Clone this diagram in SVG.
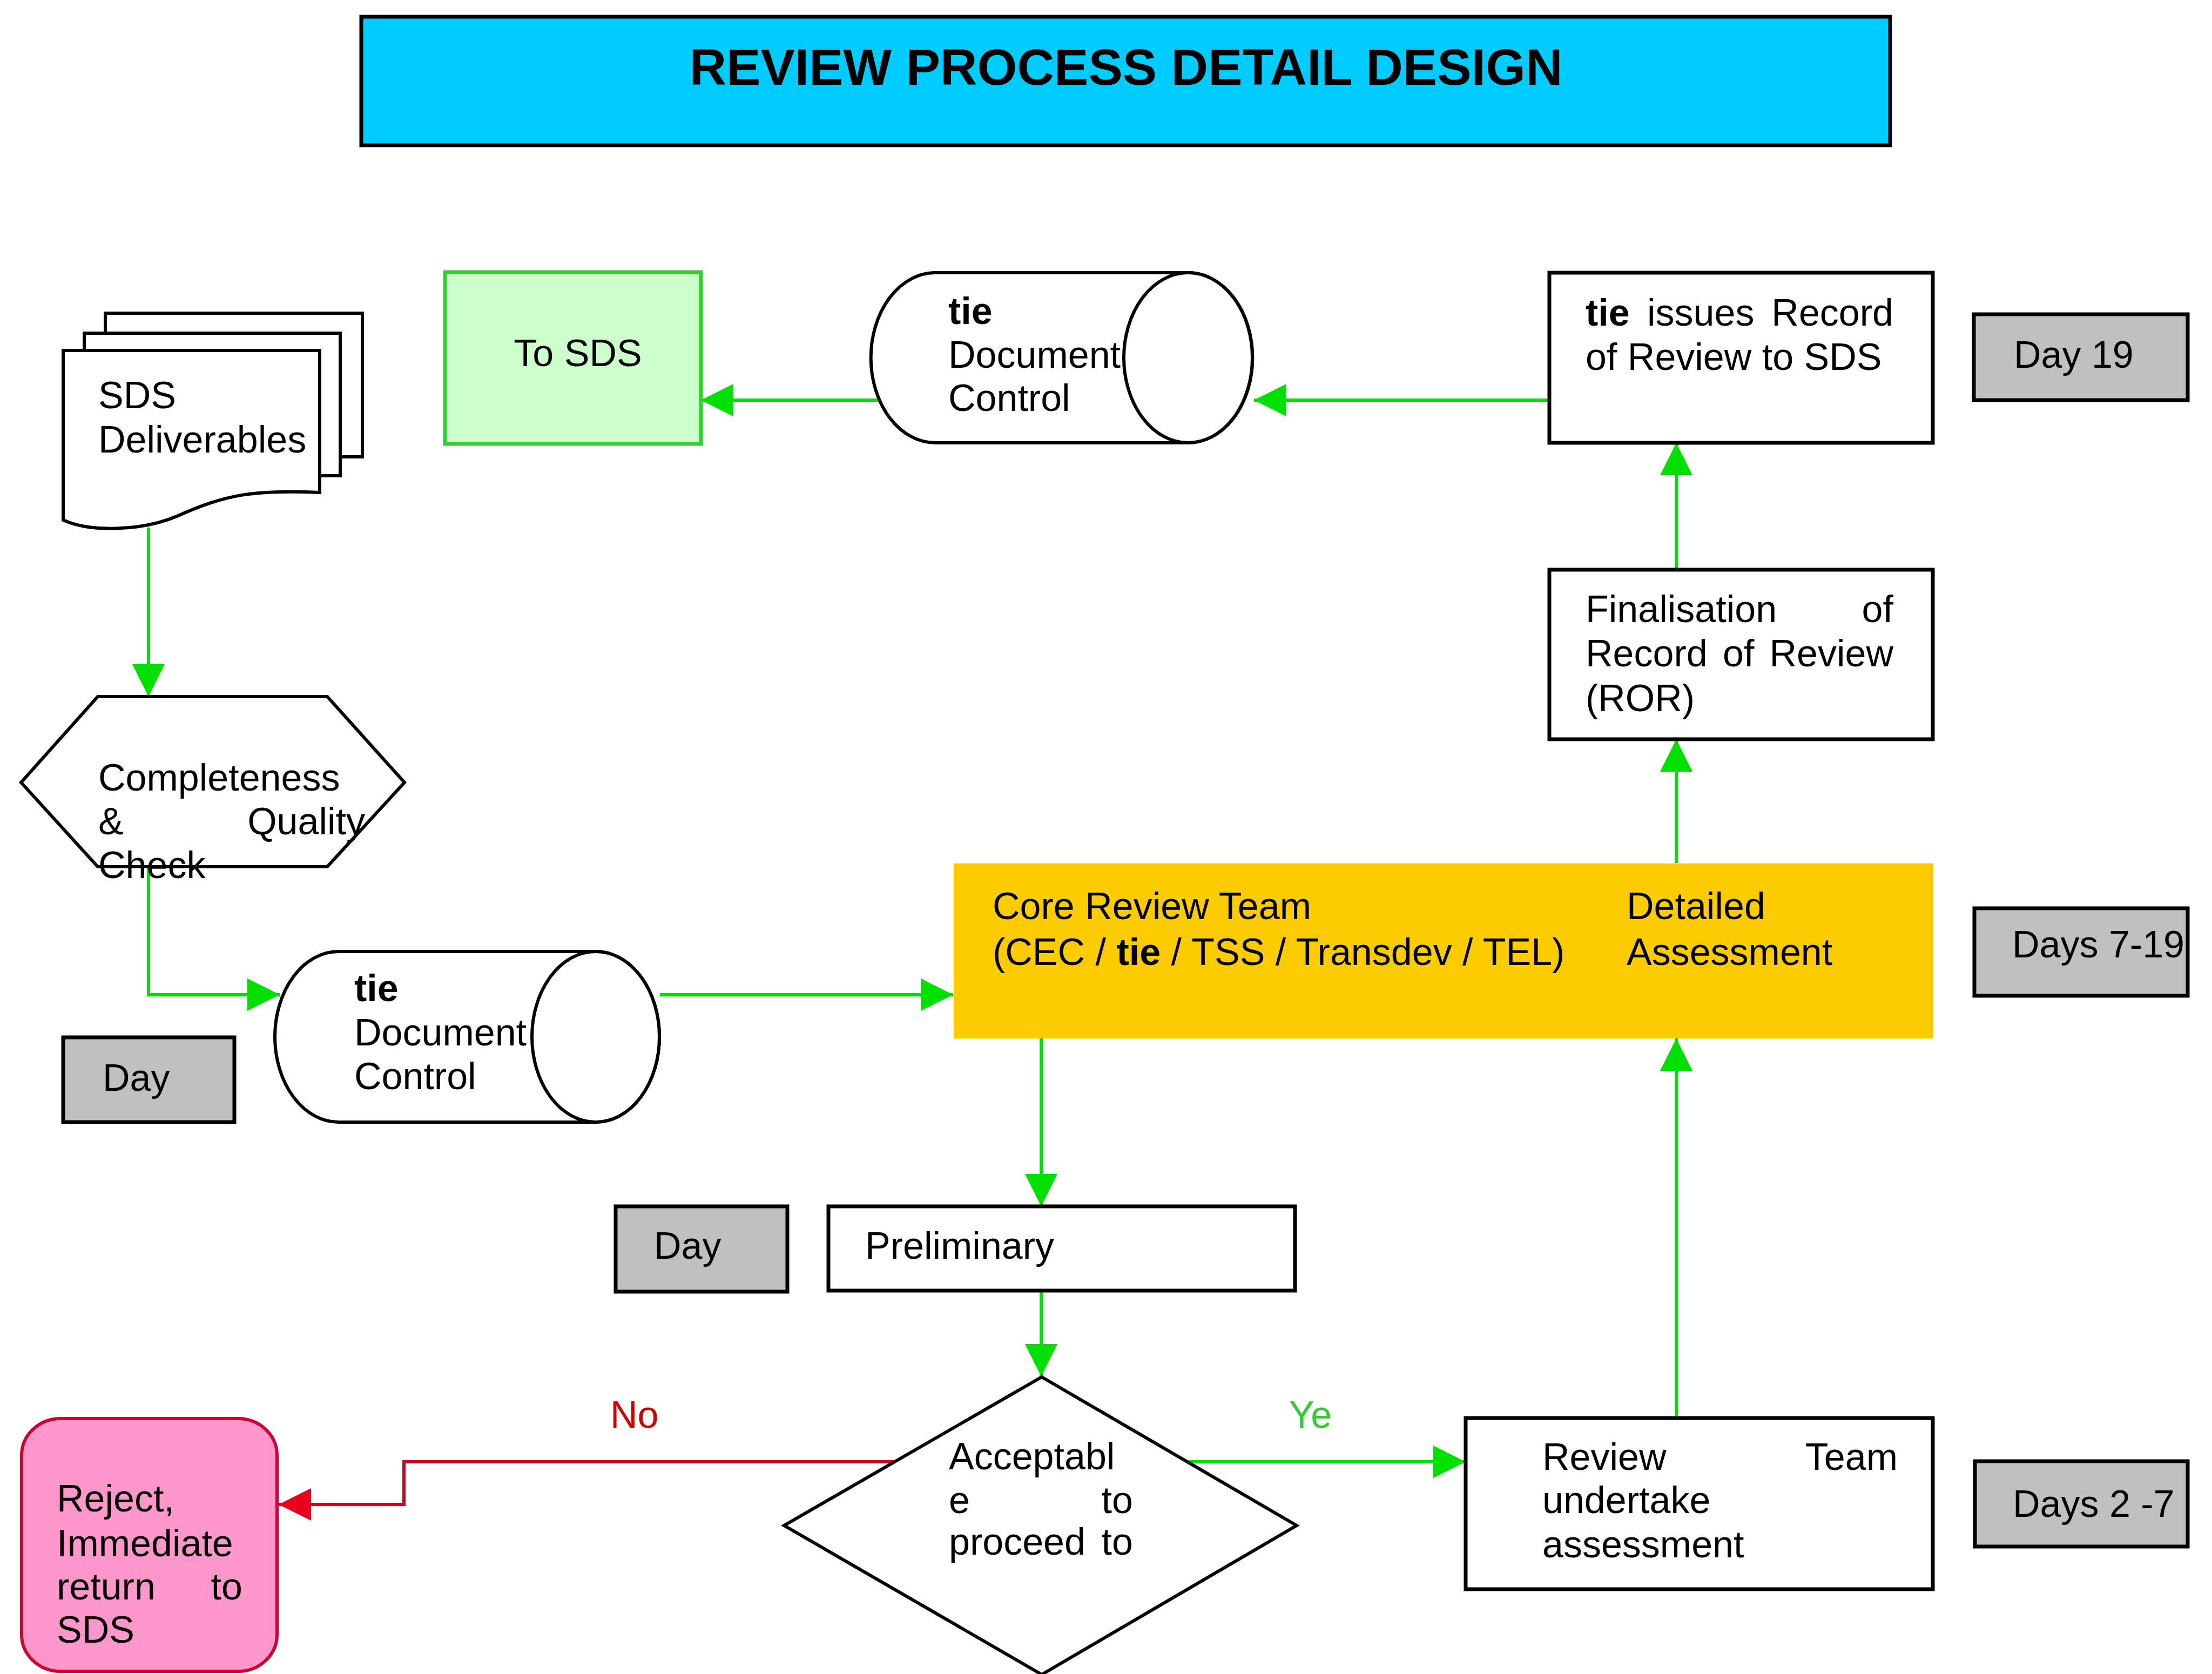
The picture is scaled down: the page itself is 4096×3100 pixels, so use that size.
<svg xmlns="http://www.w3.org/2000/svg" width="4096" height="3100" viewBox="0 0 4096 3100">
  <defs>
    <style>
      text { font-family: "Liberation Sans", Arial, sans-serif; font-size: 70px; fill: #000; }
      .b { font-weight: bold; }
      .box { fill: #fff; stroke: #000; stroke-width: 7; }
      .day { fill: #c0c0c0; stroke: #000; stroke-width: 7; }
      .shape { fill: #fff; stroke: #000; stroke-width: 6; }
      .flow { fill: none; stroke: #00e000; stroke-width: 6; }
      .reject { fill: none; stroke: #d00020; stroke-width: 6; }
    </style>
    <marker id="arrowGreen" viewBox="0 0 60 60" refX="60" refY="30" markerWidth="60" markerHeight="60" markerUnits="userSpaceOnUse" orient="auto">
      <path d="M0,0 L60,30 L0,60 Z" fill="#00e000"/>
    </marker>
    <marker id="arrowRed" viewBox="0 0 60 60" refX="60" refY="30" markerWidth="60" markerHeight="60" markerUnits="userSpaceOnUse" orient="auto">
      <path d="M0,0 L60,30 L0,60 Z" fill="#e8001c"/>
    </marker>
  </defs>

  <rect width="4096" height="3100" fill="#fff"/>

  <!-- Title banner -->
  <g id="title">
    <rect x="669" y="31" width="2831" height="238" fill="#00ccff" stroke="#000" stroke-width="7"/>
    <text x="2085" y="157" text-anchor="middle" class="b" style="font-size:95px">REVIEW PROCESS DETAIL DESIGN</text>
  </g>

  <!-- Connectors -->
  <g id="connectors">
    <path class="flow" d="M275,977 V1290" marker-end="url(#arrowGreen)"/>
    <path class="flow" d="M275,1605 V1842 H518" marker-end="url(#arrowGreen)"/>
    <path class="flow" d="M1222,1842 H1765" marker-end="url(#arrowGreen)"/>
    <path class="flow" d="M1928,1923 V2234" marker-end="url(#arrowGreen)"/>
    <path class="flow" d="M1928,2390 V2549" marker-end="url(#arrowGreen)"/>
    <path class="flow" d="M2198,2707 H2714" marker-end="url(#arrowGreen)"/>
    <path class="flow" d="M3104,2626 V1923" marker-end="url(#arrowGreen)"/>
    <path class="flow" d="M3104,1598 V1369" marker-end="url(#arrowGreen)"/>
    <path class="flow" d="M3104,1055 V820" marker-end="url(#arrowGreen)"/>
    <path class="flow" d="M2869,741 H2322" marker-end="url(#arrowGreen)"/>
    <path class="flow" d="M1629,741 H1298" marker-end="url(#arrowGreen)"/>
    <path class="reject" d="M1657,2707 H748 V2786 H516" marker-end="url(#arrowRed)"/>
    <text x="1130" y="2644" style="fill:#cc0000">No</text>
    <text x="2387" y="2644" style="fill:#33cc33">Ye</text>
  </g>

  <!-- SDS Deliverables (stacked documents) -->
  <g id="sds-deliverables">
    <rect class="box" x="195" y="580" width="476" height="266" style="stroke-width:6"/>
    <rect class="box" x="156" y="617" width="474" height="264" style="stroke-width:6"/>
    <path class="box" style="stroke-width:6" d="M117,649 H592 V912 C470,907 420,915 330,955 C260,985 165,985 117,963 Z"/>
    <text x="182" y="756">SDS</text>
    <text x="182" y="838">Deliverables</text>
  </g>

  <!-- To SDS -->
  <g id="to-sds">
    <rect x="824" y="504" width="474" height="318" fill="#ccffcc" stroke="#33cc33" stroke-width="7"/>
    <text x="1070" y="678" text-anchor="middle">To SDS</text>
  </g>

  <!-- Document control (top) -->
  <g id="doc-control-top">
    <path class="shape" d="M1732,505 H2200 A119,157 0 0 1 2200,820 H1732 A119,157 0 0 1 1732,505 Z"/>
    <ellipse class="shape" cx="2200" cy="662.5" rx="119" ry="157.5"/>
    <text x="1756" y="600" class="b">tie</text>
    <text x="1756" y="681">Document</text>
    <text x="1756" y="761">Control</text>
  </g>

  <!-- tie issues Record of Review -->
  <g id="issue-ror">
    <rect class="box" x="2869" y="505" width="710" height="315"/>
    <text x="2936" y="603" class="b">tie</text>
    <text x="3050" y="603">issues</text>
    <text x="3506" y="603" text-anchor="end">Record</text>
    <text x="2936" y="685">of Review to SDS</text>
  </g>

  <g id="day-19">
    <rect class="day" x="3655" y="582" width="396" height="159"/>
    <text x="3729" y="681">Day 19</text>
  </g>

  <!-- Finalisation of ROR -->
  <g id="finalisation">
    <rect class="box" x="2869" y="1055" width="710" height="314"/>
    <text x="2936" y="1152">Finalisation</text>
    <text x="3506" y="1152" text-anchor="end">of</text>
    <text x="2936" y="1234">Record</text>
    <text x="3190" y="1234">of</text>
    <text x="3506" y="1234" text-anchor="end">Review</text>
    <text x="2936" y="1317">(ROR)</text>
  </g>

  <!-- Completeness & Quality Check -->
  <g id="quality-check">
    <polygon class="shape" points="39,1449 181,1290 606,1290 749,1449 606,1605 181,1605"/>
    <text x="182" y="1464">Completeness</text>
    <text x="182" y="1545">&amp;</text>
    <text x="676" y="1545" text-anchor="end">Quality</text>
    <text x="182" y="1626">Check</text>
  </g>

  <!-- Document control (bottom) -->
  <g id="doc-control-bottom">
    <path class="shape" d="M627,1762 H1103 A118,158 0 0 1 1103,2078 H627 A118,158 0 0 1 627,1762 Z"/>
    <ellipse class="shape" cx="1103" cy="1920" rx="118" ry="158"/>
    <text x="656" y="1854" class="b">tie</text>
    <text x="656" y="1936">Document</text>
    <text x="656" y="2017">Control</text>
  </g>

  <g id="day-start">
    <rect class="day" x="117" y="1921" width="317" height="157"/>
    <text x="190" y="2020">Day</text>
  </g>

  <!-- Core Review Team -->
  <g id="core-review">
    <rect x="1766" y="1599" width="1814" height="324" fill="#fccc00"/>
    <text x="1838" y="1702">Core Review Team</text>
    <text x="1838" y="1787">(CEC / <tspan class="b">tie</tspan> / TSS / Transdev / TEL)</text>
    <text x="3012" y="1702">Detailed</text>
    <text x="3012" y="1787">Assessment</text>
  </g>

  <g id="days-7-19">
    <rect class="day" x="3656" y="1682" width="395" height="162"/>
    <text x="3726" y="1773">Days 7-19</text>
  </g>

  <!-- Preliminary -->
  <g id="day-prelim">
    <rect class="day" x="1140" y="2234" width="318" height="158"/>
    <text x="1211" y="2331">Day</text>
  </g>
  <g id="preliminary">
    <rect class="box" x="1534" y="2234" width="864" height="156"/>
    <text x="1602" y="2331">Preliminary</text>
  </g>

  <!-- Decision -->
  <g id="decision">
    <polygon class="shape" points="1929,2550 2401,2825 1929,3101 1452,2825"/>
    <text x="1757" y="2721">Acceptabl</text>
    <text x="1757" y="2802">e</text>
    <text x="2098" y="2802" text-anchor="end">to</text>
    <text x="1757" y="2879">proceed</text>
    <text x="2098" y="2879" text-anchor="end">to</text>
  </g>

  <!-- Reject -->
  <g id="reject">
    <rect x="40" y="2627" width="473" height="468" rx="72" ry="68" fill="#ff96cc" stroke="#d00030" stroke-width="6"/>
    <text x="105" y="2799">Reject,</text>
    <text x="105" y="2882">Immediate</text>
    <text x="105" y="2962">return</text>
    <text x="449" y="2962" text-anchor="end">to</text>
    <text x="105" y="3042">SDS</text>
  </g>

  <!-- Review Team assessment -->
  <g id="review-team">
    <rect class="box" x="2714" y="2626" width="865" height="317"/>
    <text x="2856" y="2722">Review</text>
    <text x="3514" y="2722" text-anchor="end">Team</text>
    <text x="2856" y="2802">undertake</text>
    <text x="2856" y="2884">assessment</text>
  </g>

  <g id="days-2-7">
    <rect class="day" x="3657" y="2706" width="394" height="158"/>
    <text x="3727" y="2809">Days 2 -7</text>
  </g>
</svg>
